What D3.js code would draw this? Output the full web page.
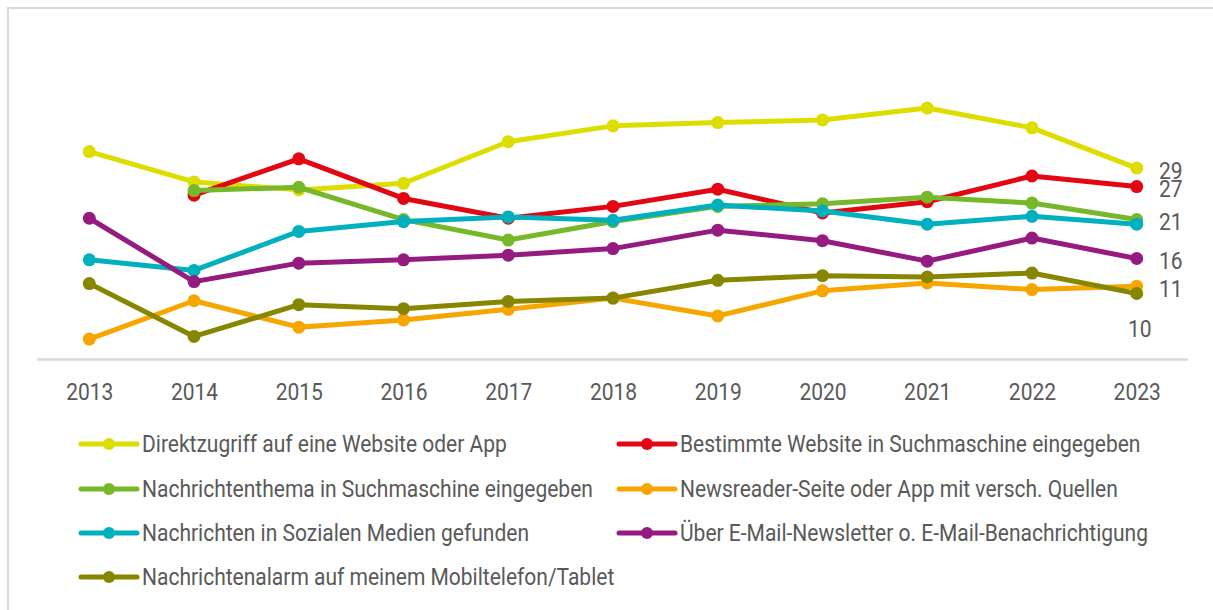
<!DOCTYPE html>
<html>
<head>
<meta charset="utf-8">
<script src="https://cdn.jsdelivr.net/npm/d3@7"></script>
<style>
  body { margin: 0; background: #fff; }
  text { font-family: Roboto, "Liberation Sans", sans-serif; fill: #595959; }
</style>
</head>
<body>
<div id="chart-area"></div>
<script>
var years = ['2013','2014','2015','2016','2017','2018','2019','2020','2021','2022','2023']

var direktzugriff = [31.5, 26.9, 25.7, 26.7, 33.0, 35.4, 35.9, 36.3, 38.1, 35.1, 29.0]
var bestimmteWebsite = [null, 24.9, 30.4, 24.4, 21.4, 23.2, 25.8, 22.2, 23.9, 27.8, 26.2]
var nachrichtenthema = [null, 25.6, 26.1, 21.2, 18.1, 20.9, 23.2, 23.6, 24.6, 23.7, 21.2]
var newsreader = [3.1, 8.9, 4.9, 6.0, 7.6, 9.3, 6.6, 10.4, 11.6, 10.6, 11.1]
var sozialeMedien = [15.1, 13.5, 19.4, 20.9, 21.6, 21.1, 23.4, 22.5, 20.5, 21.7, 20.5]
var emailNewsletter = [21.4, 11.8, 14.6, 15.1, 15.8, 16.8, 19.6, 18.0, 14.9, 18.4, 15.3]
var nachrichtenalarm = [11.5, 3.5, 8.3, 7.7, 8.8, 9.3, 12.0, 12.7, 12.5, 13.1, 10.0]

var seriesNames = [
  'Direktzugriff auf eine Website oder App',
  'Bestimmte Website in Suchmaschine eingegeben',
  'Nachrichtenthema in Suchmaschine eingegeben',
  'Newsreader-Seite oder App mit versch. Quellen',
  'Nachrichten in Sozialen Medien gefunden',
  'Über E-Mail-Newsletter o. E-Mail-Benachrichtigung',
  'Nachrichtenalarm auf meinem Mobiltelefon/Tablet'
]
var seriesValues = [direktzugriff, bestimmteWebsite, nachrichtenthema, newsreader, sozialeMedien, emailNewsletter, nachrichtenalarm]
var colors = ['#dedd00', '#e30613', '#76b82a', '#f7a600', '#00b0bf', '#951b81', '#868600']

// end labels: text, index of series it belongs to
var endLabels = ['29', '27', '21', '16', '11', '10']
var endLabelSeries = [0, 1, 2, 5, 3, 6]

var width = 1213, height = 610
var fontSize = '23px'

var svg = d3.select('#chart-area')
  .append('svg')
  .attr('width', width)
  .attr('height', height)

// the original uses a condensed face, so squeeze text horizontally.
// factor is taken from the first legend entry (about 365px wide in the original)
var probe = svg.append('text').style('font-size', fontSize).text(seriesNames[0])
var sx = 365 / probe.node().getComputedTextLength()
probe.remove()

function label(parent, px, py, t, anchor) {
  return parent.append('text')
    .attr('transform', 'translate(' + px + ',' + py + ') scale(' + sx + ',1)')
    .attr('dy', '0.35em')
    .attr('text-anchor', anchor || 'start')
    .style('font-size', fontSize)
    .text(t)
}

// frame (only top and left are visible in the picture)
svg.append('path')
  .attr('d', 'M8,' + height + 'V8H' + width)
  .attr('fill', 'none')
  .attr('stroke', '#d9d9d9')
  .attr('stroke-width', 2)

var x = d3.scalePoint()
  .domain(years)
  .range([89.3, 1136.7])

var y = d3.scaleLinear()
  .domain([0, 50])
  .range([359.5, 29.5])

// baseline
svg.append('line')
  .attr('x1', 37).attr('x2', 1188)
  .attr('y1', y(0)).attr('y2', y(0))
  .attr('stroke', '#d9d9d9')
  .attr('stroke-width', 2.5)

var xAxis = svg.append('g')
  .attr('transform', 'translate(0,' + y(0) + ')')
  .call(d3.axisBottom(x).tickSize(0).tickPadding(0))
xAxis.select('.domain').remove()
xAxis.selectAll('.tick text')
  .attr('fill', '#595959')
  .attr('y', null)
  .attr('dy', '0.35em')
  .attr('transform', 'translate(0,32) scale(' + sx + ',1)')
  .style('font-size', fontSize)
  .style('font-family', 'Roboto, sans-serif')

var line = d3.line()
  .defined(function(d) { return d != null })
  .x(function(d, i) { return x(years[i]) })
  .y(function(d) { return y(d) })

seriesValues.forEach(function(vals, s) {
  var g = svg.append('g')
  g.append('path')
    .attr('d', line(vals))
    .attr('fill', 'none')
    .attr('stroke', colors[s])
    .attr('stroke-width', 5)
    .attr('stroke-linejoin', 'round')
  g.selectAll('circle')
    .data(vals.map(function(v, i) { return { v: v, year: years[i] } }).filter(function(d) { return d.v != null }))
    .enter()
    .append('circle')
    .attr('cx', function(d) { return x(d.year) })
    .attr('cy', function(d) { return y(d.v) })
    .attr('r', 6.5)
    .attr('fill', colors[s])
})

// value labels at the right end
endLabels.forEach(function(t, i) {
  var s = endLabelSeries[i]
  var last = seriesValues[s][years.length - 1]
  var isLow = t === '10'
  label(svg, isLow ? 1128 : 1159, y(last) + (isLow ? 35 : 2.5), t)
})

// legend, two columns filled row by row
var legendCols = [81, 619]
var legendRows = [444, 489, 533, 577]
seriesNames.forEach(function(name, i) {
  var lx = legendCols[i % 2]
  var ly = legendRows[Math.floor(i / 2)]
  var lg = svg.append('g').attr('transform', 'translate(' + lx + ',' + ly + ')')
  lg.append('line')
    .attr('x1', 0).attr('x2', 56)
    .attr('stroke', colors[i])
    .attr('stroke-width', 5)
    .attr('stroke-linecap', 'round')
  lg.append('circle')
    .attr('cx', 28)
    .attr('r', 6)
    .attr('fill', colors[i])
  label(lg, 61, 0, name)
})
</script>
</body>
</html>
